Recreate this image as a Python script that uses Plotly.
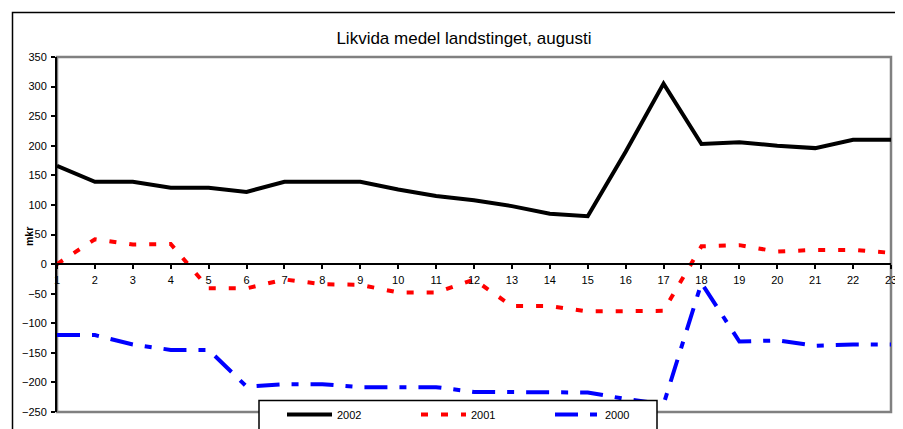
import plotly.graph_objects as go

days = list(range(1, 24))
tick_labels = [str(d) for d in days]

s2002 = [166, 139, 139, 129, 129, 122, 139, 139, 139, 126, 115, 108, 98, 85, 81,
         190, 305, 203, 206, 200, 196, 210, 210]
s2001 = [0, 42, 33, 34, -41, -41, -26, -34, -35, -48, -48, -26, -71, -71, -80,
         -79, -79, 30, 32, 21, 24, 24, 19]
s2000 = [-120, -120, -136, -145, -145, -207, -203, -203, -208, -208, -208, -216, -216,
         -217, -217, -228, -237, -32, -131, -129, -138, -136, -136]

# page geometry (the page body adds an 8px offset)
OFF = 8
PW, PH = 903, 429
W, H = PW - OFF, PH - OFF
L, R, T, B = 57, 891, 57, 412          # plot area in page pixels
pw, ph = R - L, B - T

def px(x):
    return (x - L) / pw

def py(y):
    return (B - y) / ph

def cx(x):
    return (x - OFF) / W

def cy(y):
    return 1 - (y - OFF) / H

ymin, ymax = -250, 350
font = "Arial, Liberation Sans, sans-serif"

fig = go.Figure()
fig.add_trace(go.Scatter(x=days, y=s2002, name="2002", mode="lines",
                         line=dict(color="#000000", width=4)))
fig.add_trace(go.Scatter(x=days, y=s2001, name="2001", mode="lines",
                         line=dict(color="#FF0000", width=4, dash="7px,13px")))
fig.add_trace(go.Scatter(x=days, y=s2000, name="2000", mode="lines",
                         line=dict(color="#0000FF", width=4, dash="23px,12px,7px,12px")))

xpos = (0 - ymin) / (ymax - ymin)

fig.update_layout(
    width=W, height=H,
    margin=dict(l=L - OFF, r=PW - R, t=T - OFF, b=PH - B, pad=0, autoexpand=False),
    paper_bgcolor="white", plot_bgcolor="white",
    font=dict(family=font, size=11, color="black"),
    title=dict(text="Likvida medel landstinget, augusti", x=cx(464), xref="container",
               xanchor="center", y=cy(38), yref="container", yanchor="middle",
               font=dict(size=17, family=font, color="black")),
    xaxis=dict(range=[1, 23], tickvals=days, ticktext=tick_labels,
               anchor="free", position=xpos, showline=True, linecolor="black",
               linewidth=2, ticks="outside", ticklen=4, tickwidth=2, tickcolor="black",
               ticklabelstandoff=2,
               showgrid=False, zeroline=False, tickfont=dict(size=11), automargin=False),
    xaxis2=dict(range=[1, 23], tickvals=days, overlaying="x", matches="x",
                anchor="free", position=xpos, showline=False, ticks="inside",
                ticklen=4, tickwidth=2, tickcolor="black", showticklabels=False,
                showgrid=False, zeroline=False, automargin=False),
    yaxis=dict(range=[ymin, ymax], tickvals=list(range(-250, 351, 50)),
               showline=True, linecolor="black", linewidth=2, ticks="outside",
               ticklen=4, tickwidth=2, tickcolor="black", showgrid=False,
               ticklabelstandoff=2,
               zeroline=False, tickfont=dict(size=11), automargin=False),
    yaxis2=dict(range=[ymin, ymax], tickvals=list(range(-250, 351, 50)),
                overlaying="y", matches="y", anchor="x", side="left",
                showline=False, ticks="inside", ticklen=4, tickwidth=2,
                tickcolor="black", showticklabels=False, showgrid=False,
                zeroline=False, automargin=False),
    legend=dict(orientation="h", xref="container", yref="container",
                x=cx(282), y=cy(400), xanchor="left", yanchor="top",
                bgcolor="rgba(0,0,0,0)", borderwidth=0,
                entrywidth=74, entrywidthmode="pixels", itemwidth=45,
                font=dict(size=11, family=font, color="black")),
    showlegend=True,
)

# plot-area border (gray), outer chart border (black), legend box
fig.add_shape(type="rect", xref="paper", yref="paper", x0=0, x1=1, y0=0, y1=1,
              line=dict(color="#808080", width=2.5), layer="below")
fig.add_shape(type="rect", xref="paper", yref="paper",
              x0=px(12.5), x1=px(902.5), y0=py(440), y1=py(12.5),
              line=dict(color="black", width=1.5), layer="below")
fig.add_shape(type="rect", xref="paper", yref="paper",
              x0=px(259), x1=px(657), y0=py(440), y1=py(400.5),
              line=dict(color="black", width=1.5), fillcolor="white", layer="above")

fig.add_annotation(text="<b>mkr</b>", textangle=-90, xref="paper", yref="paper",
                   x=px(29), y=py(237), xanchor="center", yanchor="middle",
                   showarrow=False, font=dict(size=10.5, family=font, color="black"))

fig.write_html("out.html")
